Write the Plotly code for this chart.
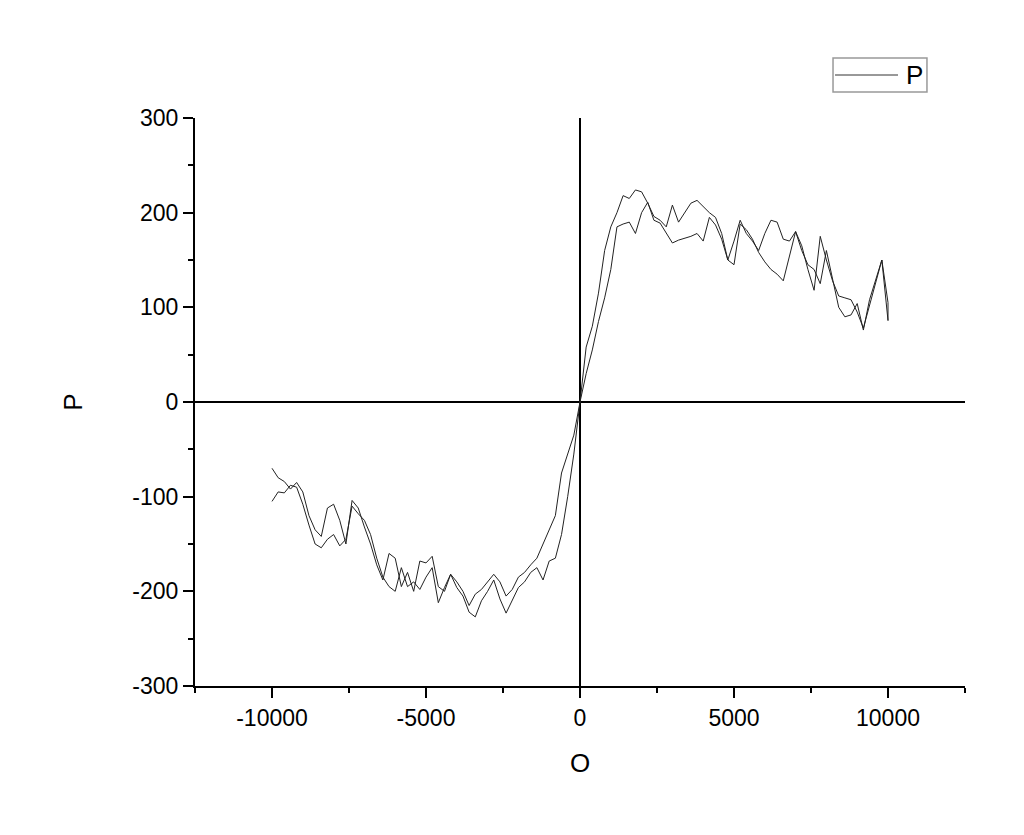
import numpy as np
import plotly.graph_objects as go

# field sweep grid (O axis), one value every 200
o_grid = np.arange(-10000, 10001, 200)

# left-shifted branch
p_left = [
    -70, -80, -84, -92, -85, -95, -120, -135, -142, -112,
    -108, -125, -150, -104, -112, -132, -150, -172, -188, -160,
    -165, -195, -180, -200, -168, -170, -163, -195, -200, -182,
    -190, -200, -215, -203, -198, -190, -182, -190, -205, -198,
    -185, -180, -172, -165, -150, -135, -120, -75, -55, -35,
    0,
    58, 80, 115, 160, 185, 200, 218, 215, 224, 222,
    210, 196, 192, 185, 208, 190, 200, 210, 213, 206,
    200, 195, 178, 150, 170, 192, 178, 170, 160, 178,
    192, 190, 172, 170, 180, 165, 140, 118, 175, 150,
    128, 112, 110, 108, 95, 78, 100, 125, 150, 105,
]

# right-shifted branch
p_right = [
    -105, -95, -96, -88, -90, -108, -130, -150, -154, -145,
    -140, -152, -145, -110, -118, -125, -140, -165, -185, -195,
    -200, -175, -195, -190, -198, -185, -175, -212, -196, -182,
    -196, -205, -222, -227, -210, -200, -188, -208, -223, -210,
    -196, -190, -180, -175, -188, -168, -165, -140, -100, -55,
    0,
    30, 55, 85, 110, 140, 185, 188, 190, 178, 200,
    211, 192, 189, 178, 168, 171, 173, 175, 178, 170,
    195, 187, 172, 150, 145, 188, 182, 172, 158, 148,
    140, 135, 128, 155, 180, 160, 145, 140, 125, 160,
    130, 100, 90, 92, 104, 76, 108, 130, 150, 86,
]

x_ticks = [-10000, -5000, 0, 5000, 10000]
x_labels = ['-10000', '-5000', '0', '5000', '10000']
y_ticks = [-300, -200, -100, 0, 100, 200, 300]
y_labels = ['-300', '-200', '-100', '0', '100', '200', '300']

# one closed loop: up along the right branch, back along the left one
o_loop = list(o_grid) + list(o_grid[::-1])
p_loop = p_right + p_left[::-1]

fig = go.Figure()
fig.add_trace(go.Scatter(x=o_loop, y=p_loop, mode='lines', name='P',
                         line=dict(color='#222222', width=1), showlegend=False))

font_family = 'Arial, Liberation Sans, sans-serif'

# page body has an 8px margin, so the figure is 8px smaller than the window
fig.update_layout(
    width=1016, height=827,
    margin=dict(l=187, r=59, t=110, b=149),
    plot_bgcolor='white', paper_bgcolor='white',
    font=dict(family=font_family, size=23, color='black'),
)

# Origin-style legend box drawn by hand
fig.add_shape(type='rect', xref='paper', yref='paper',
              x0=0.8286, x1=0.9506, y0=1.0458, y1=1.1056,
              line=dict(color='#999999', width=1.5), fillcolor='white')
fig.add_shape(type='line', xref='paper', yref='paper',
              x0=0.8312, x1=0.913, y0=1.0757, y1=1.0757,
              line=dict(color='#333333', width=1))
fig.add_annotation(x=0.935, y=1.076, xref='paper', yref='paper', text='P',
                   xanchor='center', yanchor='middle',
                   showarrow=False, font=dict(family=font_family, size=26))

fig.update_xaxes(
    range=[-12500, 12500], tickvals=x_ticks, ticktext=x_labels,
    ticks='outside', ticklen=10, tickwidth=2, tickcolor='black',
    minor=dict(ticks='outside', ticklen=5, tickwidth=2, tickcolor='black', dtick=2500, tick0=0),
    showline=True, linecolor='black', linewidth=2, mirror=False,
    showgrid=False, zeroline=True, zerolinecolor='black', zerolinewidth=2,
    title=dict(text='O', font=dict(size=26), standoff=24),
)
fig.update_yaxes(
    range=[-300, 300], tickvals=y_ticks, ticktext=y_labels,
    ticks='outside', ticklen=10, tickwidth=2, tickcolor='black',
    minor=dict(ticks='outside', ticklen=5, tickwidth=2, tickcolor='black', dtick=50, tick0=0),
    showline=True, linecolor='black', linewidth=2, mirror=False,
    showgrid=False, zeroline=True, zerolinecolor='black', zerolinewidth=2,
    title=dict(text='P', font=dict(size=26), standoff=42),
)

fig.write_html("out.html")
